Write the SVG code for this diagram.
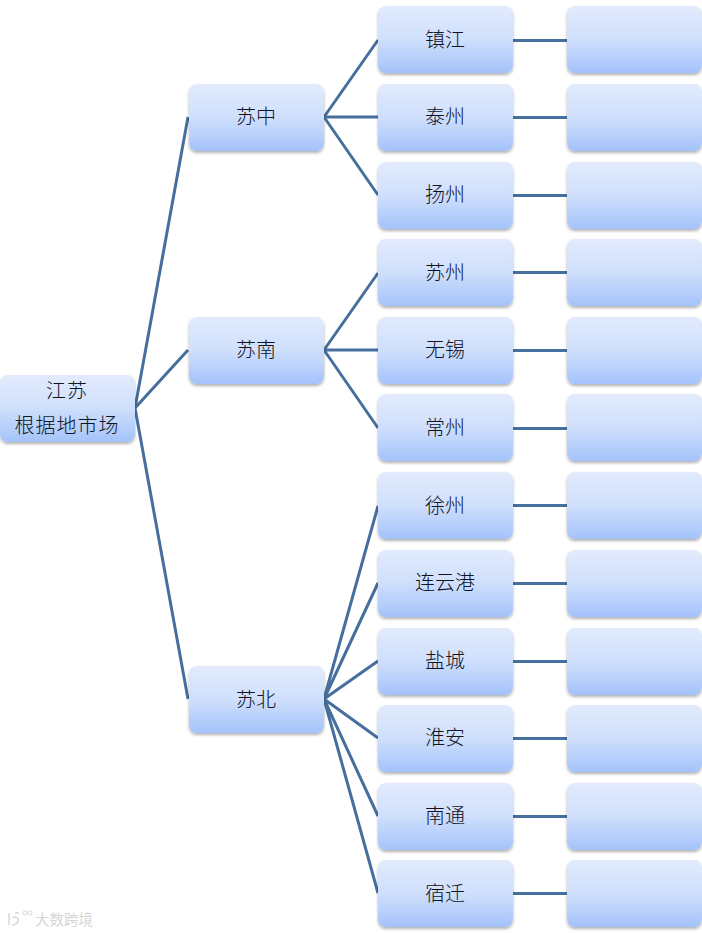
<svg xmlns="http://www.w3.org/2000/svg" width="702" height="933" viewBox="0 0 702 933">
<style>
.b{fill:url(#g);filter:url(#s)}
.t{font-family:"Noto Sans CJK SC","Liberation Sans",sans-serif;font-size:20px;font-weight:300;fill:#10141f;text-anchor:middle}
#connectors path{fill:none;stroke:#466f9d;stroke-width:3}
</style>
<defs>
<linearGradient id="g" x1="0" y1="0" x2="0" y2="1"><stop offset="0" stop-color="#e2ebfd"/><stop offset="0.5" stop-color="#cfdffc"/><stop offset="1" stop-color="#a4c3fb"/></linearGradient>
<filter id="s" x="-10%" y="-10%" width="120%" height="125%"><feDropShadow dx="0" dy="2" stdDeviation="1.5" flood-color="#000" flood-opacity="0.3"/></filter>
<rect id="r" width="135" height="67" rx="8" class="b"/>
</defs>
<rect width="702" height="933" fill="#fff"/>
<g id="connectors">
<path d="M135 408L188 117M135 408L188 350M135 408L188 699"/>
<path d="M324 117L378 40M324 117H378M324 117L378 195"/>
<path d="M324 350L378 273M324 350H378M324 350L378 428"/>
<path d="M324 699L378 506M324 699L378 583M324 699L378 661M324 699L378 738M324 699L378 816M324 699L378 893"/>
<path d="M513 40.500H567M513 117.500H567M513 195.500H567M513 272.500H567M513 350.500H567M513 428.500H567M513 505.500H567M513 583.500H567M513 661.500H567M513 738.500H567M513 816.500H567M513 893.500H567"/>
</g>
<g id="root"><use href="#r" x="0" y="375"/><text class="t" x="67" y="398" letter-spacing="1">江苏</text><text class="t" x="67" y="433" letter-spacing="1">根据地市场</text></g>
<g id="suzhong"><use href="#r" x="189" y="84"/><text class="t" x="256" y="124">苏中</text></g>
<g id="sunan"><use href="#r" x="189" y="317"/><text class="t" x="256" y="357">苏南</text></g>
<g id="subei"><use href="#r" x="189" y="666"/><text class="t" x="256" y="707">苏北</text></g>
<g id="c1"><use href="#r" x="378" y="6"/><text class="t" x="445" y="47">镇江</text></g>
<g id="c2"><use href="#r" x="378" y="84"/><text class="t" x="445" y="124">泰州</text></g>
<g id="c3"><use href="#r" x="378" y="162"/><text class="t" x="445" y="202">扬州</text></g>
<g id="c4"><use href="#r" x="378" y="239"/><text class="t" x="445" y="280">苏州</text></g>
<g id="c5"><use href="#r" x="378" y="317"/><text class="t" x="445" y="357">无锡</text></g>
<g id="c6"><use href="#r" x="378" y="394"/><text class="t" x="445" y="435">常州</text></g>
<g id="c7"><use href="#r" x="378" y="472"/><text class="t" x="445" y="513">徐州</text></g>
<g id="c8"><use href="#r" x="378" y="550"/><text class="t" x="445" y="590">连云港</text></g>
<g id="c9"><use href="#r" x="378" y="628"/><text class="t" x="445" y="668">盐城</text></g>
<g id="c10"><use href="#r" x="378" y="705"/><text class="t" x="445" y="745">淮安</text></g>
<g id="c11"><use href="#r" x="378" y="783"/><text class="t" x="445" y="823">南通</text></g>
<g id="c12"><use href="#r" x="378" y="860"/><text class="t" x="445" y="901">宿迁</text></g>
<g id="d1"><use href="#r" x="567" y="6"/></g>
<g id="d2"><use href="#r" x="567" y="84"/></g>
<g id="d3"><use href="#r" x="567" y="162"/></g>
<g id="d4"><use href="#r" x="567" y="239"/></g>
<g id="d5"><use href="#r" x="567" y="317"/></g>
<g id="d6"><use href="#r" x="567" y="394"/></g>
<g id="d7"><use href="#r" x="567" y="472"/></g>
<g id="d8"><use href="#r" x="567" y="550"/></g>
<g id="d9"><use href="#r" x="567" y="628"/></g>
<g id="d10"><use href="#r" x="567" y="705"/></g>
<g id="d11"><use href="#r" x="567" y="783"/></g>
<g id="d12"><use href="#r" x="567" y="860"/></g>
<g id="watermark"><path d="M9 913V925M12 925C15 925 19 923 18 919C17 916 14 917 13 918M15 913L19 913" fill="none" stroke="#d8d8d8" stroke-width="1.500"/><circle cx="25" cy="913" r="2" fill="none" stroke="#d8d8d8"/><circle cx="30" cy="913" r="2" fill="none" stroke="#d8d8d8"/><text x="35" y="925" font-family="Noto Sans CJK SC,sans-serif" font-size="14.500" fill="#d6d6d6">大数跨境</text></g>
</svg>
